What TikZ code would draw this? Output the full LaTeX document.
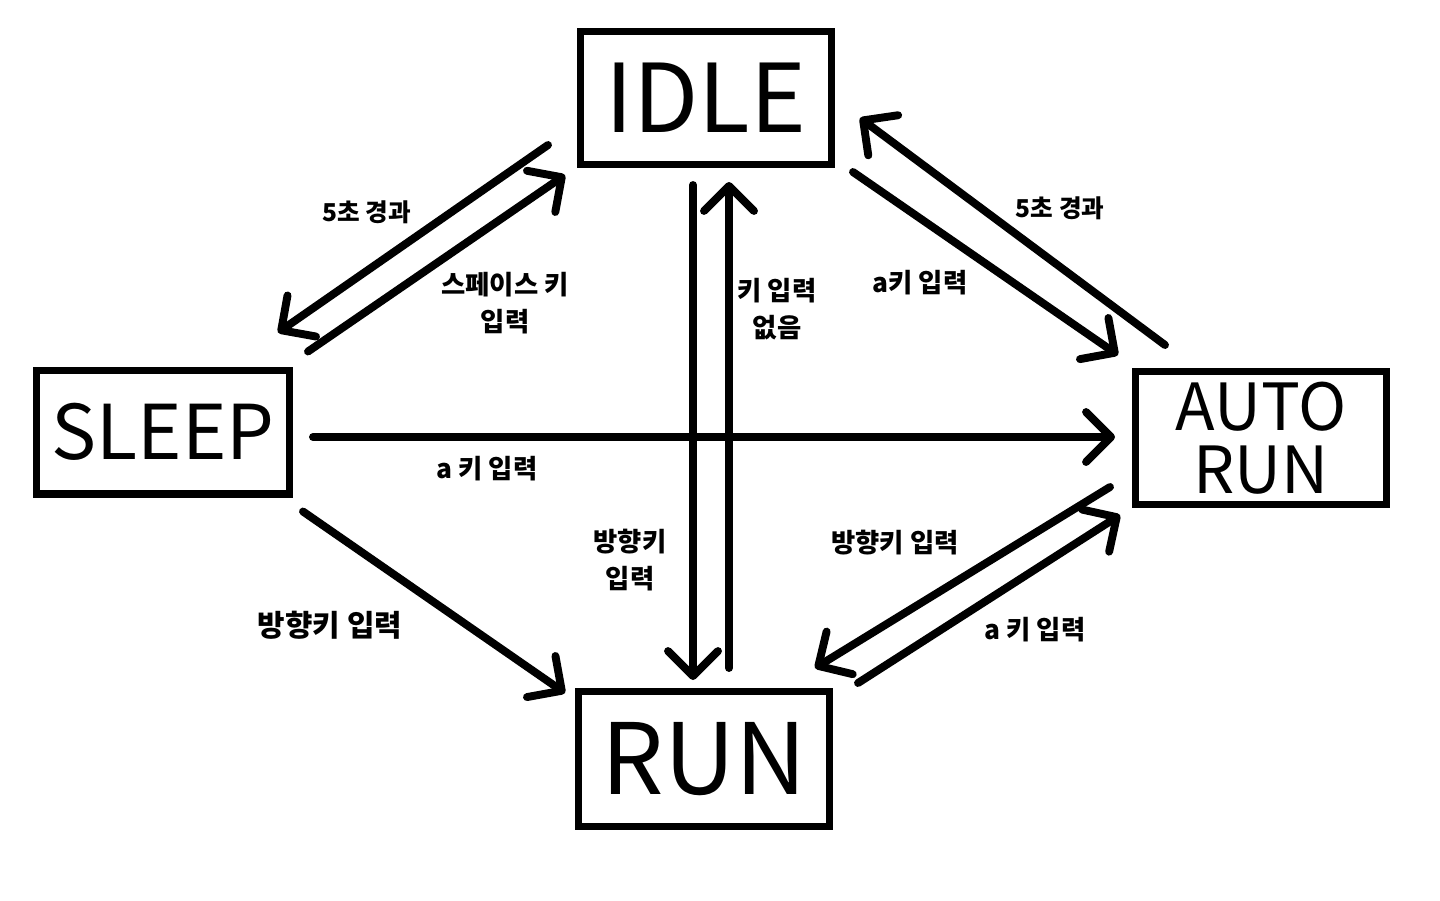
\documentclass[tikz,border=0pt]{standalone}
\usepackage{fontspec}
\setmainfont{Noto Sans CJK KR}
\usetikzlibrary{arrows.meta,calc}

\begin{document}
\begin{tikzpicture}[x=0.02cm,y=-0.02cm,
  state/.style={draw,line width=4pt,inner sep=0pt,minimum width=5.02cm,minimum height=2.66cm},
  trans/.style={line width=4.5pt,line cap=round,-{Straight Barb[length=5mm,width=10mm,round]}},
  lbl/.style={font=\fontsize{15}{21}\selectfont\bfseries,align=center,inner sep=0pt},
  lblsmall/.style={font=\fontsize{14}{16}\selectfont\bfseries,inner sep=0pt}]
\useasboundingbox (0,0) rectangle (1440,900);

% Define the states.
\node[state,font=\fontsize{54}{54}\selectfont] (idle) at (706,98) {IDLE};
\node[state,minimum width=5.06cm,minimum height=2.48cm,font=\fontsize{43}{43}\selectfont] (sleep) at (163,432) {SLEEP};
\node[state,align=center,font=\fontsize{37}{36}\selectfont] (autorun) at (1261,438) {AUTO\\RUN};
\node[state,minimum height=2.7cm,font=\fontsize{56}{56}\selectfont] (run) at (704,759) {RUN};

% Transitions between IDLE and SLEEP.
\draw[trans] ($(idle.south west)+(-29,-23)$) -- ($(sleep.north east)+(-15,-34)$);
\draw[trans] ($(sleep.north east)+(15,-15)$) -- ($(idle.south west)+(-12,7)$);

% Transitions between IDLE and RUN.
\draw[trans] ($(idle.south)+(-13,17)$) -- ($(run.north)+(-11,-8)$);
\draw[trans] ($(run.north)+(25,-20)$) -- ($(idle.south)+(23,14)$);

% Transitions between IDLE and AUTO RUN.
\draw[trans] ($(idle.south east)+(18,4)$) -- ($(autorun.north west)+(-14,-13)$);
\draw[trans] ($(autorun.north west)+(33,-23)$) -- ($(idle.east)+(25,20)$);

% Transitions from SLEEP.
\draw[trans] ($(sleep.east)+(20,5)$) -- ($(autorun.west)+(-17,-1)$);
\draw[trans] ($(sleep.south east)+(10,14)$) -- ($(run.north west)+(-10,5)$);

% Transitions between RUN and AUTO RUN.
\draw[trans] ($(autorun.south west)+(-22,-21)$) -- ($(run.north east)+(-18,-20)$);
\draw[trans] ($(run.north east)+(25,-5)$) -- ($(autorun.south west)+(-12,7)$);

% Labels.
\node[lblsmall] (lsleep) at (367,212) {5초 경과};
\node[lbl] (lspace) at (505,303) {스페이스 키\\입력};
\node[lbl] (lnokey) at (777,309) {키 입력\\없음};
\node[lbl] (lidleauto) at (920,283) {a키 입력};
\node[lblsmall] (lautoidle) at (1060,208) {5초 경과};
\node[lbl] (lsleepauto) at (487,469) {a 키 입력};
\node[lbl] (lidlerun) at (630,560) {방향키\\입력};
\node[lbl,font=\fontsize{17}{21}\selectfont\bfseries] (lsleeprun) at (330,625) {방향키 입력};
\node[lbl] (lautorun) at (895,543) {방향키 입력};
\node[lbl] (lrunauto) at (1035,630) {a 키 입력};
\end{tikzpicture}
\end{document}
